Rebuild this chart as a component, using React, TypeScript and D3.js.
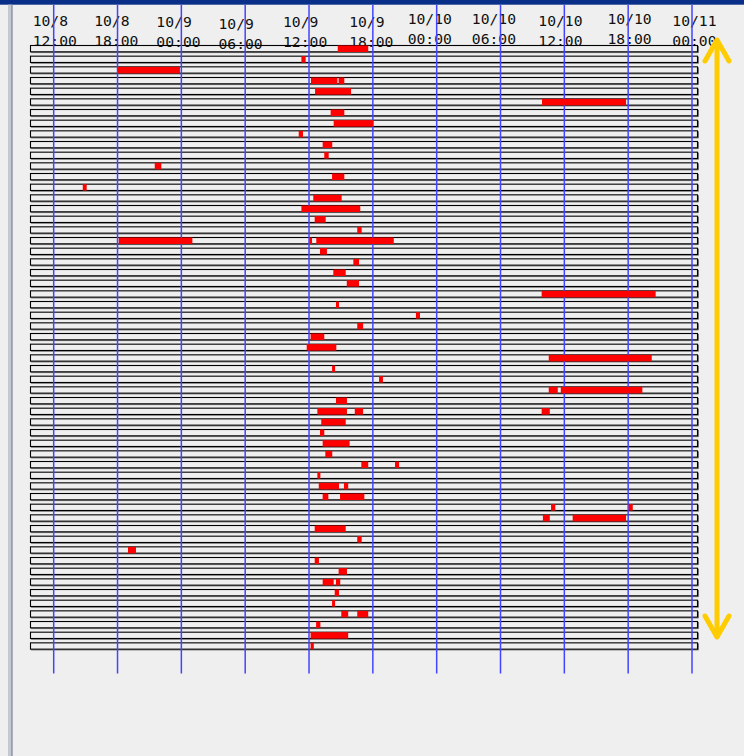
import React from "react";
import * as d3 from "d3";

const YEAR = 2023;
const ROW_COUNT = 57;
const DOMAIN_START = "10/8 12:00";
const DOMAIN_END = "10/11 00:00";

// [row, start, end]
const bars: [number, string, string][] = [
  [0, "10/9 14:42", "10/9 17:34"],
  [1, "10/9 11:17", "10/9 11:41"],
  [2, "10/8 18:01", "10/8 23:52"],
  [3, "10/9 12:11", "10/9 14:40"],
  [3, "10/9 14:47", "10/9 15:19"],
  [4, "10/9 12:34", "10/9 15:57"],
  [5, "10/10 09:54", "10/10 17:48"],
  [6, "10/9 14:02", "10/9 15:19"],
  [7, "10/9 14:19", "10/9 18:03"],
  [8, "10/9 11:02", "10/9 11:26"],
  [9, "10/9 13:17", "10/9 14:11"],
  [10, "10/9 13:26", "10/9 13:51"],
  [11, "10/8 21:30", "10/8 22:07"],
  [12, "10/9 14:10", "10/9 15:19"],
  [13, "10/8 14:44", "10/8 15:06"],
  [14, "10/9 12:24", "10/9 15:04"],
  [15, "10/9 11:17", "10/9 16:49"],
  [16, "10/9 12:32", "10/9 13:34"],
  [17, "10/9 16:32", "10/9 16:57"],
  [18, "10/8 18:07", "10/9 01:02"],
  [18, "10/9 12:02", "10/9 12:17"],
  [18, "10/9 12:41", "10/9 19:58"],
  [19, "10/9 13:02", "10/9 13:41"],
  [20, "10/9 16:10", "10/9 16:42"],
  [21, "10/9 14:17", "10/9 15:27"],
  [22, "10/9 15:33", "10/9 16:42"],
  [23, "10/10 09:52", "10/10 20:35"],
  [24, "10/9 14:32", "10/9 14:49"],
  [25, "10/9 22:03", "10/9 22:26"],
  [26, "10/9 16:32", "10/9 17:05"],
  [27, "10/9 12:09", "10/9 13:26"],
  [28, "10/9 11:47", "10/9 14:34"],
  [29, "10/10 10:32", "10/10 20:13"],
  [30, "10/9 14:10", "10/9 14:27"],
  [31, "10/9 18:35", "10/9 18:57"],
  [32, "10/10 10:32", "10/10 11:23"],
  [32, "10/10 11:40", "10/10 19:20"],
  [33, "10/9 14:32", "10/9 15:34"],
  [34, "10/9 12:47", "10/9 15:34"],
  [34, "10/9 16:18", "10/9 17:05"],
  [34, "10/10 09:52", "10/10 10:38"],
  [35, "10/9 13:09", "10/9 15:27"],
  [36, "10/9 13:02", "10/9 13:26"],
  [37, "10/9 13:17", "10/9 15:49"],
  [38, "10/9 13:32", "10/9 14:11"],
  [39, "10/9 16:55", "10/9 17:34"],
  [39, "10/9 20:05", "10/9 20:28"],
  [40, "10/9 12:47", "10/9 13:04"],
  [41, "10/9 12:55", "10/9 14:49"],
  [41, "10/9 15:17", "10/9 15:41"],
  [42, "10/9 13:17", "10/9 13:49"],
  [42, "10/9 14:55", "10/9 17:12"],
  [43, "10/10 10:45", "10/10 11:09"],
  [43, "10/10 18:03", "10/10 18:26"],
  [44, "10/10 09:59", "10/10 10:38"],
  [44, "10/10 12:47", "10/10 17:48"],
  [45, "10/9 12:32", "10/9 15:27"],
  [46, "10/9 16:32", "10/9 16:57"],
  [47, "10/8 18:59", "10/8 19:44"],
  [48, "10/9 12:32", "10/9 12:56"],
  [49, "10/9 14:47", "10/9 15:34"],
  [50, "10/9 13:17", "10/9 14:19"],
  [50, "10/9 14:32", "10/9 14:56"],
  [51, "10/9 14:25", "10/9 14:49"],
  [52, "10/9 14:10", "10/9 14:27"],
  [53, "10/9 15:02", "10/9 15:41"],
  [53, "10/9 16:32", "10/9 17:34"],
  [54, "10/9 12:40", "10/9 13:04"],
  [55, "10/9 12:09", "10/9 15:41"],
  [56, "10/9 12:09", "10/9 12:27"],
];

// layout-only jitter of the tick labels (as in the reference)
const labelDx = [-21, -23.4, -25, -26.7, -26, -23.7, -29, -28.7, -26, -20.7, -19.7];
const labelBaseline = [26, 26, 27, 29, 27, 27, 24, 24, 26, 24, 26];

function parseT(s: string): Date {
  const [md, hm] = s.split(" ");
  const [m, d] = md.split("/").map(Number);
  const [h, mi] = hm.split(":").map(Number);
  return new Date(YEAR, m - 1, d, h, mi);
}

export default function App() {
  const W = 744;
  const H = 756;
  const x = d3
    .scaleTime()
    .domain([parseT(DOMAIN_START), parseT(DOMAIN_END)])
    .range([53.7, 692]);
  const y = d3.scaleLinear().domain([0, ROW_COUNT]).range([45, 45 + ROW_COUNT * 10.667]);
  const ticks = x.ticks(d3.timeHour.every(6) as any);
  const fmtDate = d3.timeFormat("%-m/%-d");
  const fmtTime = d3.timeFormat("%H:%M");
  const rows = d3.range(ROW_COUNT);
  const boxX0 = 30;
  const boxX1 = 697.5;
  const arrowX = 717;

  return (
    <svg
      width={W}
      height={H}
      style={{ position: "absolute", left: 0, top: 0 }}
      xmlns="http://www.w3.org/2000/svg"
    >
      <rect x={0} y={0} width={W} height={H} fill="#efefef" />
      <rect x={0} y={0} width={W} height={4.7} fill="#0a2f88" />
      <rect x={8} y={4.7} width={4} height={H} fill="#c4c8d2" />
      <line x1={12} x2={12} y1={4.7} y2={H} stroke="#7c8494" strokeWidth={1.2} />

      {/* tick labels */}
      <g fontFamily="'DejaVu Sans Mono', monospace" fontSize={14.7} fill="#111">
        {ticks.map((t, i) => (
          <g key={i}>
            <text x={x(t) + (labelDx[i] ?? -22)} y={labelBaseline[i] ?? 26}>
              {fmtDate(t)}
            </text>
            <text x={x(t) + (labelDx[i] ?? -22)} y={(labelBaseline[i] ?? 26) + 19.5}>
              {fmtTime(t)}
            </text>
          </g>
        ))}
      </g>

      {/* row boxes */}
      <g>
        {rows.map((r) => {
          const top = y(r);
          return (
            <g key={r}>
              <line
                x1={boxX0 + 1}
                x2={boxX1 + 1}
                y1={top + 7.6}
                y2={top + 7.6}
                stroke="#777"
                strokeWidth={1}
              />
              <line
                x1={boxX1 + 1}
                x2={boxX1 + 1}
                y1={top + 1}
                y2={top + 7.6}
                stroke="#777"
                strokeWidth={1}
              />
              <rect
                x={boxX0 + 0.5}
                y={top + 0.5}
                width={boxX1 - boxX0 - 0.5}
                height={6.3}
                fill="none"
                stroke="#000"
                strokeWidth={1.1}
              />
            </g>
          );
        })}
      </g>

      {/* gridlines */}
      <g>
        {ticks.map((t, i) => (
          <line
            key={i}
            x1={x(t)}
            x2={x(t)}
            y1={4.7}
            y2={673.5}
            stroke="#4444ff"
            strokeWidth={1.5}
          />
        ))}
      </g>

      {/* bars */}
      <g>
        {bars.map(([r, s, e], i) => {
          const x0 = x(parseT(s));
          const x1 = x(parseT(e));
          return (
            <rect
              key={i}
              x={x0}
              y={y(r) + 0.5}
              width={Math.max(2.5, x1 - x0)}
              height={6.5}
              fill="#ff0000"
            />
          );
        })}
      </g>

      {/* double arrow */}
      <g
        stroke="#ffcc00"
        strokeWidth={5}
        fill="none"
        strokeLinecap="round"
        strokeLinejoin="round"
      >
        <line x1={arrowX} x2={arrowX} y1={41} y2={636} />
        <path d={`M${arrowX - 12},61 L${arrowX},40 L${arrowX + 12},61`} />
        <path d={`M${arrowX - 12},616 L${arrowX},637 L${arrowX + 12},616`} />
      </g>
    </svg>
  );
}
